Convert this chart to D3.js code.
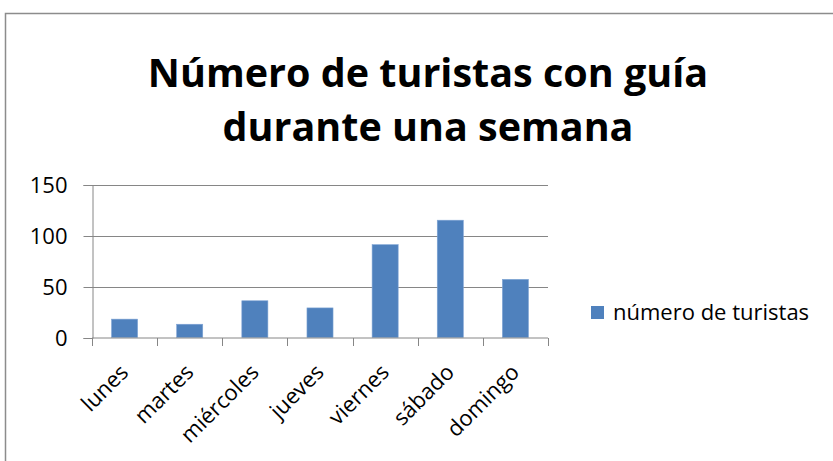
<!DOCTYPE html>
<html lang="es">
<head>
<meta charset="utf-8">
<script src="https://cdn.jsdelivr.net/npm/d3@7"></script>
<style>
  body { margin: 0; background: #fff; }
  svg { display: block; font-family: "Open Sans", "Liberation Sans", sans-serif; }
</style>
</head>
<body>
<svg id="chart" width="833" height="461"></svg>
<script>
// data
var days = ["lunes", "martes", "miércoles", "jueves", "viernes", "sábado", "domingo"];
var tourists = [18, 13, 36, 29, 91, 115, 57];
var yTicks = [0, 50, 100, 150];
var titleLines = ["Número de turistas con guía", "durante una semana"];
var seriesName = "número de turistas";

var svg = d3.select("#chart");

// outer chart frame (cut off at right and bottom)
svg.append("rect")
    .attr("x", 5.5).attr("y", 13.5)
    .attr("width", 840).attr("height", 460)
    .style("fill", "none")
    .style("stroke", "#8c8c8c")
    .style("stroke-width", 1.5);

// plot area
var plotLeft = 92, plotRight = 548, plotTop = 184.5, plotBottom = 337.5;

var x = d3.scaleBand().domain(days).range([plotLeft, plotRight]).paddingInner(0.6).paddingOuter(0.3);
var xTick = d3.scaleBand().domain(days).range([plotLeft, plotRight]);
var y = d3.scaleLinear().domain([0, 150]).range([plotBottom, plotTop]);

// gridlines
svg.append("g")
    .selectAll("line")
    .data(yTicks.slice(1))
    .enter().append("line")
    .attr("x1", plotLeft).attr("x2", plotRight)
    .attr("y1", d => Math.round(y(d)) + 0.5).attr("y2", d => Math.round(y(d)) + 0.5)
    .style("stroke", "#868686")
    .style("stroke-width", 1);

// bars
svg.append("g")
    .selectAll("rect")
    .data(tourists)
    .enter().append("rect")
    .attr("x", (d, i) => x(days[i]))
    .attr("y", d => y(d))
    .attr("width", x.bandwidth())
    .attr("height", d => plotBottom - y(d))
    .style("fill", "#4f81bd")
    .style("stroke", "#7ea3d4")
    .style("stroke-width", 0.6);

// y axis
var yAxis = d3.axisLeft(y).tickValues(yTicks).tickSize(9).tickPadding(16);
var gy = svg.append("g").attr("transform", "translate(" + (plotLeft + 0.5) + ",0.5)").call(yAxis);
gy.select(".domain").style("stroke", "#868686");
gy.selectAll(".tick line").style("stroke", "#868686");
gy.selectAll(".tick text")
    .style("font-size", "22px")
    .style("font-family", "\"Open Sans\", sans-serif")
    .style("fill", "#000")
    .attr("dy", "0.36em");

// x axis
var xAxis = d3.axisBottom(xTick).tickSize(0).tickFormat("");
var gx = svg.append("g").attr("transform", "translate(0," + (plotBottom + 0.5) + ")").call(xAxis);
gx.select(".domain").attr("d", "M" + plotLeft + ",0H" + plotRight).style("stroke", "#868686");
gx.selectAll(".tick").remove();

// category separators on x axis
var seps = days.map(d => xTick(d)).concat([plotRight]);
gx.selectAll(".sep")
    .data(seps)
    .enter().append("line")
    .attr("class", "sep")
    .attr("x1", d => Math.round(d) + 0.5).attr("x2", d => Math.round(d) + 0.5)
    .attr("y1", 0).attr("y2", 8)
    .style("stroke", "#868686");

// rotated day labels
svg.append("g")
    .selectAll("text")
    .data(days)
    .enter().append("text")
    .attr("transform", d => "translate(" + (xTick(d) + xTick.bandwidth() / 2 - 6) + "," + (plotBottom + 25) + ") rotate(-45)")
    .attr("text-anchor", "end")
    .attr("dy", "0.72em")
    .style("font-size", "22px")
    .style("fill", "#000")
    .text(d => d);

// title
svg.append("g")
    .selectAll("text")
    .data(titleLines)
    .enter().append("text")
    .attr("x", 428)
    .attr("y", (d, i) => 87 + i * 54)
    .attr("text-anchor", "middle")
    .style("font-size", "39.5px")
    .style("font-weight", "bold")
    .style("fill", "#000")
    .text(d => d);

// legend
var legend = svg.append("g").attr("transform", "translate(591,306)");
legend.append("rect")
    .attr("width", 13).attr("height", 13)
    .style("fill", "#4f81bd");
legend.append("text")
    .attr("x", 22).attr("y", 14)
    .style("font-size", "22px")
    .style("fill", "#000")
    .text(seriesName);
</script>
</body>
</html>
